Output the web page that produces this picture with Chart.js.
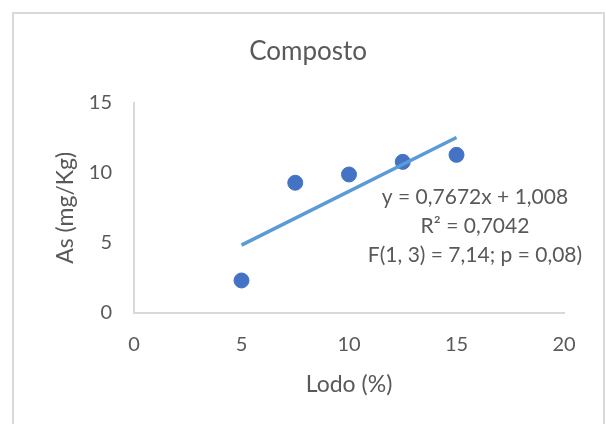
<!DOCTYPE html>
<html>
<head>
<meta charset="utf-8">
<script src="https://cdn.jsdelivr.net/npm/chart.js@4"></script>
<style>
  html, body { margin: 0; padding: 0; background: #fff; overflow: hidden; }
  #wrap { position: relative; width: 606px; height: 424px; }
</style>
</head>
<body>
<div id="wrap"><canvas id="chart"></canvas></div>
<script>
// values
const lodo = [5, 7.5, 10, 12.5, 15];
const arsenio = [2.32, 9.29, 9.88, 10.78, 11.28];
// trendline end points (y = 0,7672x + 1,008)
const trendX = [5, 15];
const trendY = [4.84, 12.52];
const xTicks = [0, 5, 10, 15, 20];
const yTicks = [0, 5, 10, 15];
const equationLines = ['y = 0,7672x + 1,008', 'R² = 0,7042', 'F(1, 3) = 7,14; p = 0,08)'];

const grey = '#595959';
const fontFamily = 'Lato, "Open Sans", sans-serif';

// light frame round the chart, like the Excel chart box
const frame = {
  id: 'frame',
  beforeDraw(chart) {
    const ctx = chart.ctx;
    ctx.save();
    ctx.strokeStyle = '#d9d9d9';
    ctx.lineWidth = 2;
    ctx.strokeRect(13, 13, 591, 440);
    ctx.restore();
  }
};

// regression text block
const equation = {
  id: 'equation',
  afterDatasetsDraw(chart) {
    const ctx = chart.ctx;
    ctx.save();
    ctx.fillStyle = grey;
    ctx.font = '21px ' + fontFamily;
    ctx.textAlign = 'center';
    ctx.textBaseline = 'middle';
    equationLines.forEach((t, i) => ctx.fillText(t, 475, 197 + i * 29));
    ctx.restore();
  }
};

new Chart(document.getElementById('chart'), {
  type: 'scatter',
  data: {
    datasets: [
      {
        label: 'As',
        data: lodo.map((x, i) => ({ x: x, y: arsenio[i] })),
        backgroundColor: '#4472c4',
        borderColor: '#4472c4',
        pointRadius: 7.5,
        order: 1
      },
      {
        label: 'Linear',
        type: 'line',
        data: trendX.map((x, i) => ({ x: x, y: trendY[i] })),
        borderColor: '#5b9bd5',
        borderWidth: 3.5,
        pointRadius: 0,
        fill: false,
        order: 0
      }
    ]
  },
  options: {
    responsive: true,
    maintainAspectRatio: false,
    animation: false,
    layout: { padding: { left: 52.2, right: 42, top: 0, bottom: 25.2 } },
    plugins: {
      legend: { display: false },
      tooltip: { enabled: false },
      title: {
        display: true,
        text: 'Composto',
        color: grey,
        font: { family: fontFamily, size: 26, weight: 'normal' },
        padding: { top: 36.4, bottom: 35.1 }
      }
    },
    scales: {
      x: {
        type: 'linear',
        min: xTicks[0],
        max: xTicks[xTicks.length - 1],
        afterBuildTicks: s => { s.ticks = xTicks.map(v => ({ value: v })); },
        afterFit: s => { s.height = 85.8; },
        grid: { display: false, drawTicks: false },
        border: { color: '#d9d9d9', width: 2 },
        ticks: { color: grey, padding: 20, font: { family: fontFamily, size: 20 } },
        title: {
          display: true,
          text: 'Lodo (%)',
          color: grey,
          padding: 0,
          font: { family: fontFamily, size: 23 }
        }
      },
      y: {
        type: 'linear',
        min: yTicks[0],
        max: yTicks[yTicks.length - 1],
        afterBuildTicks: s => { s.ticks = yTicks.map(v => ({ value: v })); },
        afterFit: s => { s.width = 81.8; },
        grid: { display: false, drawTicks: false },
        border: { color: '#d9d9d9', width: 2 },
        ticks: { color: grey, padding: 22, font: { family: fontFamily, size: 20 } },
        title: {
          display: true,
          text: 'As (mg/Kg)',
          color: grey,
          padding: 0,
          font: { family: fontFamily, size: 23 }
        }
      }
    }
  },
  plugins: [frame, equation]
});
</script>
</body>
</html>
